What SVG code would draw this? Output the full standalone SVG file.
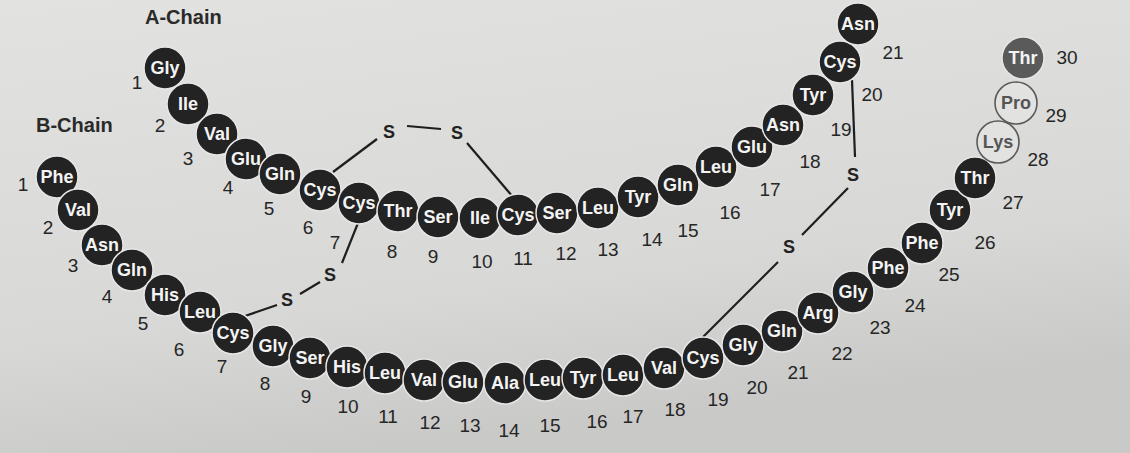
<svg xmlns="http://www.w3.org/2000/svg" width="1130" height="453" viewBox="0 0 1130 453">
<defs>
<linearGradient id="bg" x1="0" y1="0" x2="0.3" y2="1">
<stop offset="0" stop-color="#e2e2e0"/>
<stop offset="0.7" stop-color="#d8d8d6"/>
<stop offset="1" stop-color="#c9c9c7"/>
</linearGradient>
<style>
.aa circle{fill:#232323;stroke:#e6e6e6;stroke-width:1.5}
.aa text{font-family:"Liberation Sans",Arial,sans-serif;font-weight:bold;font-size:18px;fill:#f4f4f4;text-anchor:middle}
.num{font-family:"Liberation Sans",Arial,sans-serif;font-size:19px;fill:#262626;text-anchor:middle}
.ttl{font-family:"Liberation Sans",Arial,sans-serif;font-weight:bold;font-size:20px;fill:#2a2a2a}
.s{font-family:"Liberation Sans",Arial,sans-serif;font-weight:bold;font-size:18px;fill:#222;text-anchor:middle}
.bond{stroke:#1e1e1e;stroke-width:2.2;fill:none}
.aa.grey circle{fill:#5a5a5a}
.aa.open circle{fill:#e2e2e0;stroke:#5a5a5a;stroke-width:1.6}
.aa.open text{fill:#555}
</style>
</defs>
<rect width="1130" height="453" fill="url(#bg)"/>
<text class="ttl" x="145" y="24">A-Chain</text>
<text class="ttl" x="36" y="132">B-Chain</text>
<g id="connectors">
<line class="bond" x1="407" y1="126" x2="441" y2="129"/>
<line class="bond" x1="333" y1="172" x2="377" y2="139"/>
<line class="bond" x1="467" y1="143" x2="513" y2="197"/>
<line class="bond" x1="358" y1="223" x2="342" y2="263"/>
<line class="bond" x1="300" y1="294" x2="320" y2="282"/>
<line class="bond" x1="277" y1="305" x2="245" y2="316"/>
<line class="bond" x1="852" y1="80" x2="855" y2="157"/>
<line class="bond" x1="848" y1="188" x2="802" y2="235"/>
<line class="bond" x1="778" y1="262" x2="703" y2="337"/>
<text class="s" x="389" y="138">S</text>
<text class="s" x="457" y="139">S</text>
<text class="s" x="330" y="281">S</text>
<text class="s" x="287" y="306">S</text>
<text class="s" x="853" y="181">S</text>
<text class="s" x="789" y="253">S</text>
</g>
<g id="A1" class="aa"><circle cx="165" cy="68" r="21"/><text x="165" y="74">Gly</text></g>
<g id="A2" class="aa"><circle cx="188" cy="104" r="21"/><text x="188" y="110">Ile</text></g>
<g id="A3" class="aa"><circle cx="217" cy="134" r="21"/><text x="217" y="140">Val</text></g>
<g id="A4" class="aa"><circle cx="246" cy="159" r="21"/><text x="246" y="165">Glu</text></g>
<g id="A5" class="aa"><circle cx="280" cy="174" r="21"/><text x="280" y="180">Gln</text></g>
<g id="A6" class="aa"><circle cx="320" cy="190" r="21"/><text x="320" y="196">Cys</text></g>
<g id="A7" class="aa"><circle cx="359" cy="203" r="21"/><text x="359" y="209">Cys</text></g>
<g id="A8" class="aa"><circle cx="398" cy="211" r="21"/><text x="398" y="217">Thr</text></g>
<g id="A9" class="aa"><circle cx="438" cy="217" r="21"/><text x="438" y="223">Ser</text></g>
<g id="A10" class="aa"><circle cx="480" cy="218" r="21"/><text x="480" y="224">Ile</text></g>
<g id="A11" class="aa"><circle cx="518" cy="215" r="21"/><text x="518" y="221">Cys</text></g>
<g id="A12" class="aa"><circle cx="557" cy="213" r="21"/><text x="557" y="219">Ser</text></g>
<g id="A13" class="aa"><circle cx="598" cy="208" r="21"/><text x="598" y="214">Leu</text></g>
<g id="A14" class="aa"><circle cx="638" cy="197" r="21"/><text x="638" y="203">Tyr</text></g>
<g id="A15" class="aa"><circle cx="678" cy="185" r="21"/><text x="678" y="191">Gln</text></g>
<g id="A16" class="aa"><circle cx="716" cy="167" r="21"/><text x="716" y="173">Leu</text></g>
<g id="A17" class="aa"><circle cx="752" cy="147" r="21"/><text x="752" y="153">Glu</text></g>
<g id="A18" class="aa"><circle cx="783" cy="125" r="21"/><text x="783" y="131">Asn</text></g>
<g id="A19" class="aa"><circle cx="813" cy="95" r="21"/><text x="813" y="101">Tyr</text></g>
<g id="A20" class="aa"><circle cx="840" cy="62" r="21"/><text x="840" y="68">Cys</text></g>
<g id="A21" class="aa"><circle cx="858" cy="24" r="21"/><text x="858" y="30">Asn</text></g>
<g id="B1" class="aa"><circle cx="57" cy="177" r="21"/><text x="57" y="183">Phe</text></g>
<g id="B2" class="aa"><circle cx="78" cy="210" r="21"/><text x="78" y="216">Val</text></g>
<g id="B3" class="aa"><circle cx="102" cy="245" r="21"/><text x="102" y="251">Asn</text></g>
<g id="B4" class="aa"><circle cx="132" cy="270" r="21"/><text x="132" y="276">Gln</text></g>
<g id="B5" class="aa"><circle cx="165" cy="295" r="21"/><text x="165" y="301">His</text></g>
<g id="B6" class="aa"><circle cx="200" cy="312" r="21"/><text x="200" y="318">Leu</text></g>
<g id="B7" class="aa"><circle cx="233" cy="333" r="21"/><text x="233" y="339">Cys</text></g>
<g id="B8" class="aa"><circle cx="273" cy="346" r="21"/><text x="273" y="352">Gly</text></g>
<g id="B9" class="aa"><circle cx="310" cy="358" r="21"/><text x="310" y="364">Ser</text></g>
<g id="B10" class="aa"><circle cx="347" cy="367" r="21"/><text x="347" y="373">His</text></g>
<g id="B11" class="aa"><circle cx="385" cy="373" r="21"/><text x="385" y="379">Leu</text></g>
<g id="B12" class="aa"><circle cx="424" cy="380" r="21"/><text x="424" y="386">Val</text></g>
<g id="B13" class="aa"><circle cx="463" cy="382" r="21"/><text x="463" y="388">Glu</text></g>
<g id="B14" class="aa"><circle cx="505" cy="383" r="21"/><text x="505" y="389">Ala</text></g>
<g id="B15" class="aa"><circle cx="545" cy="380" r="21"/><text x="545" y="386">Leu</text></g>
<g id="B16" class="aa"><circle cx="583" cy="378" r="21"/><text x="583" y="384">Tyr</text></g>
<g id="B17" class="aa"><circle cx="623" cy="375" r="21"/><text x="623" y="381">Leu</text></g>
<g id="B18" class="aa"><circle cx="664" cy="368" r="21"/><text x="664" y="374">Val</text></g>
<g id="B19" class="aa"><circle cx="703" cy="358" r="21"/><text x="703" y="364">Cys</text></g>
<g id="B20" class="aa"><circle cx="743" cy="345" r="21"/><text x="743" y="351">Gly</text></g>
<g id="B21" class="aa"><circle cx="782" cy="331" r="21"/><text x="782" y="337">Gln</text></g>
<g id="B22" class="aa"><circle cx="818" cy="313" r="21"/><text x="818" y="319">Arg</text></g>
<g id="B23" class="aa"><circle cx="853" cy="292" r="21"/><text x="853" y="298">Gly</text></g>
<g id="B24" class="aa"><circle cx="888" cy="268" r="21"/><text x="888" y="274">Phe</text></g>
<g id="B25" class="aa"><circle cx="922" cy="243" r="21"/><text x="922" y="249">Phe</text></g>
<g id="B26" class="aa"><circle cx="950" cy="210" r="21"/><text x="950" y="216">Tyr</text></g>
<g id="B27" class="aa"><circle cx="975" cy="178" r="21"/><text x="975" y="184">Thr</text></g>
<g id="B28" class="aa open"><circle cx="998" cy="142" r="21"/><text x="998" y="148">Lys</text></g>
<g id="B29" class="aa open"><circle cx="1016" cy="103" r="21"/><text x="1016" y="109">Pro</text></g>
<g id="B30" class="aa grey"><circle cx="1023" cy="58" r="21"/><text x="1023" y="64">Thr</text></g>
<g id="numbers">
<text class="num" x="137" y="89">1</text>
<text class="num" x="160" y="132">2</text>
<text class="num" x="188" y="165">3</text>
<text class="num" x="228" y="194">4</text>
<text class="num" x="269" y="215">5</text>
<text class="num" x="308" y="234">6</text>
<text class="num" x="335" y="249">7</text>
<text class="num" x="392" y="258">8</text>
<text class="num" x="433" y="263">9</text>
<text class="num" x="482" y="268">10</text>
<text class="num" x="523" y="265">11</text>
<text class="num" x="566" y="260">12</text>
<text class="num" x="608" y="256">13</text>
<text class="num" x="652" y="246">14</text>
<text class="num" x="688" y="237">15</text>
<text class="num" x="730" y="219">16</text>
<text class="num" x="770" y="196">17</text>
<text class="num" x="810" y="168">18</text>
<text class="num" x="841" y="136">19</text>
<text class="num" x="872" y="101">20</text>
<text class="num" x="893" y="59">21</text>
<text class="num" x="23" y="191">1</text>
<text class="num" x="48" y="234">2</text>
<text class="num" x="73" y="272">3</text>
<text class="num" x="107" y="303">4</text>
<text class="num" x="143" y="330">5</text>
<text class="num" x="179" y="356">6</text>
<text class="num" x="222" y="373">7</text>
<text class="num" x="265" y="390">8</text>
<text class="num" x="306" y="403">9</text>
<text class="num" x="348" y="413">10</text>
<text class="num" x="388" y="423">11</text>
<text class="num" x="430" y="429">12</text>
<text class="num" x="470" y="432">13</text>
<text class="num" x="509" y="437">14</text>
<text class="num" x="550" y="432">15</text>
<text class="num" x="597" y="428">16</text>
<text class="num" x="633" y="423">17</text>
<text class="num" x="675" y="416">18</text>
<text class="num" x="718" y="406">19</text>
<text class="num" x="757" y="394">20</text>
<text class="num" x="798" y="379">21</text>
<text class="num" x="842" y="360">22</text>
<text class="num" x="880" y="334">23</text>
<text class="num" x="915" y="312">24</text>
<text class="num" x="949" y="281">25</text>
<text class="num" x="985" y="249">26</text>
<text class="num" x="1013" y="209">27</text>
<text class="num" x="1038" y="166">28</text>
<text class="num" x="1056" y="122">29</text>
<text class="num" x="1067" y="64">30</text>
</g>
</svg>
